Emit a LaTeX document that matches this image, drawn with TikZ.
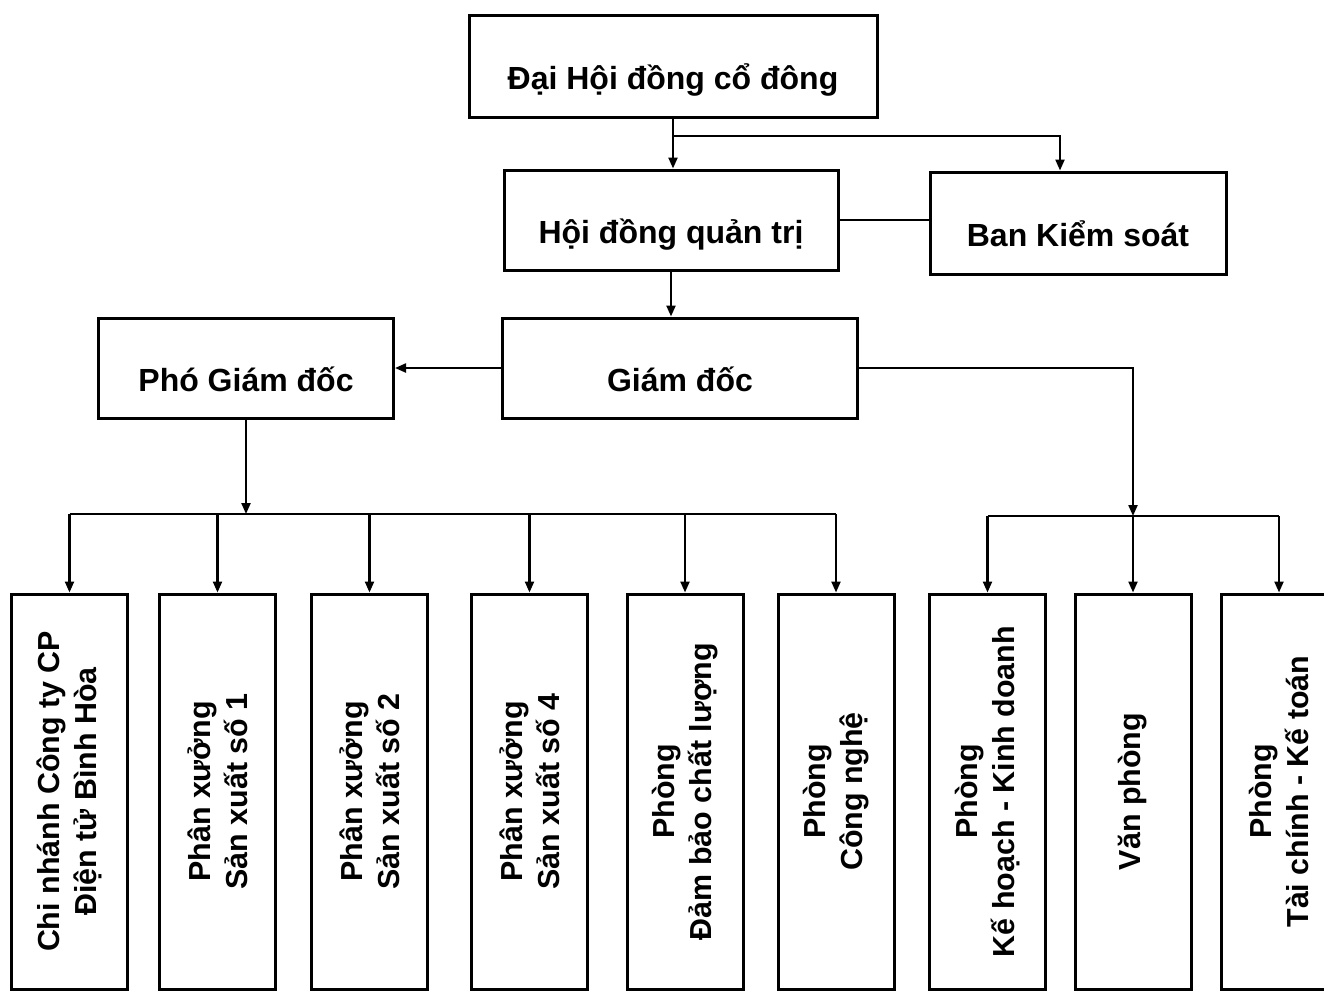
\documentclass[tikz,border=0pt]{standalone}
\usepackage{fontspec}
\setmainfont{Liberation Sans}
\usetikzlibrary{arrows.meta}
\begin{document}
\begin{tikzpicture}[x=0.5pt,y=-0.5pt,
    >={Triangle[length=5.5pt,width=4.5pt]},
    link/.style={line width=1.1pt},
    box/.style={draw,line width=1.5pt,align=center,inner sep=0pt,
      text height=23pt,text depth=0pt,
      font=\fontsize{16}{19}\selectfont\bfseries},
    vbox/.style={box,rotate=90,minimum width=197.5pt,minimum height=58pt,
      text height=,text depth=,
      font=\fontsize{15.2}{18.5}\selectfont\bfseries}]
  \useasboundingbox (0,0) rectangle (1324,993);
  \clip (0,0) rectangle (1324,993);
  \node [box,minimum width=204pt,minimum height=51pt]   (dh)   at (673,66)  {Đại Hội đồng cổ đông};
  \node [box,minimum width=167pt,minimum height=50pt]   (hdqt) at (671,220) {Hội đồng quản trị};
  \node [box,minimum width=148pt,minimum height=51pt]   (bks)  at (1078,223) {Ban Kiểm soát};
  \node [box,minimum width=177.5pt,minimum height=50pt] (gd)   at (680,368) {Giám đốc};
  \node [box,minimum width=147.5pt,minimum height=50pt] (pgd)  at (246,368) {Phó Giám đốc};
  \node [vbox] (b1) at (69.5,791.5)  {Chi nhánh Công ty CP\\Điện tử Bình Hòa};
  \node [vbox] (b2) at (217.5,791.5) {Phân xưởng\\Sản xuất số 1};
  \node [vbox] (b3) at (369.5,791.5) {Phân xưởng\\Sản xuất số 2};
  \node [vbox] (b4) at (529.5,791.5) {Phân xưởng\\Sản xuất số 4};
  \node [vbox] (b5) at (685,791.5)   {Phòng\\Đảm bảo chất lượng};
  \node [vbox] (b6) at (836,791.5)   {Phòng\\Công nghệ};
  \node [vbox] (b7) at (987.5,791.5) {Phòng\\Kế hoạch - Kinh doanh};
  \node [vbox] (b8) at (1133,791.5)  {Văn phòng};
  \node [vbox] (b9) at (1279,791.5)  {Phòng\\Tài chính - Kế toán};
  \coordinate (fork) at (673,136);
  \coordinate (lbus) at (248,514);
  \coordinate (rbus) at (1133,516);
  \draw [link,->] (dh.south) -- (dh.south |- hdqt.north);
  \draw [link,->] (fork) -| ([xshift=-9pt]bks.north);
  \draw [link] (hdqt.east) -- (hdqt.east -| bks.west);
  \draw [link,->] (hdqt.south) -- (hdqt.south |- gd.north);
  \draw [link,->] (gd.west) -- (gd.west -| pgd.east);
  \draw [link,->] (pgd.south) -- (pgd.south |- lbus);
  \draw [link] (b1.east |- lbus) -- (b6.east |- lbus);
  \foreach \b in {b1,b2,b3,b4,b5,b6}
    \draw [link,->] (\b.east |- lbus) -- (\b.east);
  \draw [link,->] (gd.east) -| (rbus);
  \draw [link] (b7.east |- rbus) -- (b9.east |- rbus);
  \foreach \b in {b7,b8,b9}
    \draw [link,->] (\b.east |- rbus) -- (\b.east);
\end{tikzpicture}
\end{document}
